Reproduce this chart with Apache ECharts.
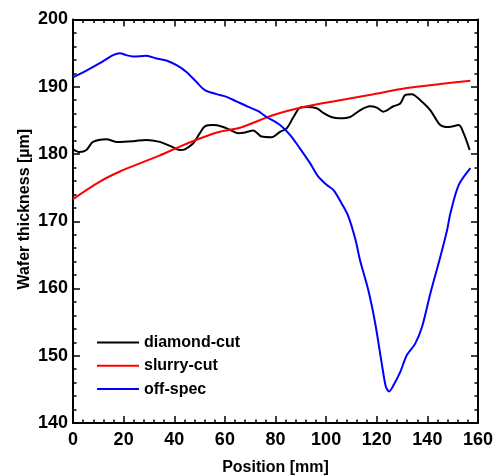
<!DOCTYPE html>
<html>
<head>
<meta charset="utf-8">
<script src="https://cdn.jsdelivr.net/npm/echarts@6/dist/echarts.min.js"></script>
<style>html,body{margin:0;padding:0;background:#fff}#c{width:497px;height:476px}</style>
</head>
<body>
<div id="c"></div>
<script>
var seriesNames = ['diamond-cut', 'slurry-cut', 'off-spec'];
var xTicks = [0, 20, 40, 60, 80, 100, 120, 140, 160];
var yTicks = [140, 150, 160, 170, 180, 190, 200];

var diamondX = [0, 2.6, 5.3, 7.9, 13.2, 17.2, 23.7, 29, 34.3, 38.3, 42.2, 44.2, 47.5, 50.1, 52.1, 55.4, 58.7, 62, 65.3, 68, 71.2, 74.5, 78.5, 81.8, 84.4, 87.1, 89.7, 92.4, 96.3, 98.9, 102, 105.5, 109.5, 113.4, 117.3, 120, 122.6, 126.6, 129.3, 131.3, 133.9, 137.2, 141.2, 145.1, 148.4, 152.4, 154.3, 156.7];
var diamondY = [180.7, 180.3, 180.6, 181.8, 182.2, 181.8, 181.9, 182.1, 181.8, 181.2, 180.6, 180.7, 181.6, 183.1, 184.1, 184.3, 184.1, 183.6, 183.1, 183.2, 183.5, 182.6, 182.5, 183.3, 183.8, 185.5, 186.9, 187.0, 186.8, 186.1, 185.5, 185.3, 185.5, 186.5, 187.1, 186.9, 186.3, 187.1, 187.5, 188.8, 188.9, 188.0, 186.5, 184.3, 184.0, 184.3, 183.1, 180.6];

var slurryX = [0, 10.6, 18.5, 26.4, 34.3, 42.2, 50.1, 58, 66, 79.2, 92.4, 105.5, 118.7, 131.9, 145.1, 157];
var slurryY = [173.3, 175.9, 177.4, 178.6, 179.8, 181.1, 182.3, 183.3, 183.9, 185.8, 187.1, 188.0, 188.9, 189.8, 190.4, 190.9];

var offX = [0, 5.3, 10.6, 13.2, 15.8, 18.5, 21, 23.7, 29, 33, 36.9, 40.9, 44.8, 48.8, 52.1, 56.7, 60.7, 64.7, 69.3, 73, 76.5, 81.8, 85.8, 89.7, 93.7, 97, 100.3, 103, 106.2, 108.8, 111.5, 113.4, 116.7, 119.4, 122, 123.6, 124.9, 126.6, 129.3, 131.9, 135.2, 137.9, 141.2, 145.1, 147.8, 149.1, 152.4, 157];
var offY = [191.4, 192.4, 193.5, 194.1, 194.7, 195.0, 194.7, 194.5, 194.6, 194.2, 193.9, 193.2, 192.2, 190.7, 189.5, 188.9, 188.5, 187.8, 187.0, 186.4, 185.5, 184.3, 182.8, 180.8, 178.6, 176.6, 175.4, 174.6, 172.6, 170.7, 167.4, 164.2, 159.7, 154.8, 148.8, 145.4, 144.7, 145.6, 147.6, 150.1, 151.8, 154.3, 159.3, 164.7, 168.7, 171.2, 175.4, 177.9];

function zip(xs, ys) { return xs.map(function (x, i) { return [x, ys[i]]; }); }

var font = 'Liberation Sans, Arial, sans-serif';
var axisLine = { show: true, onZero: false, lineStyle: { color: '#000', width: 2 } };
function xAx(pos, labels) {
  return {
    type: 'value', position: pos, min: xTicks[0], max: xTicks[xTicks.length - 1], interval: 20,
    axisLine: axisLine,
    axisTick: { show: true, inside: true, length: 7, lineStyle: { color: '#000', width: 1.5 } },
    minorTick: { show: true, splitNumber: 5, length: 3.5, lineStyle: { color: '#000', width: 1.5 } },
    splitLine: { show: false },
    axisLabel: { show: labels, color: '#000', fontSize: 18, fontWeight: 'bold', fontFamily: font, margin: 8 },
    name: labels ? 'Position [mm]' : '', nameLocation: 'middle', nameGap: 37, nameMoveOverlap: false,
    nameTextStyle: { color: '#000', fontSize: 16, fontWeight: 'bold', fontFamily: font }
  };
}
function yAx(pos, labels) {
  return {
    type: 'value', position: pos, min: yTicks[0], max: yTicks[yTicks.length - 1], interval: 10,
    axisLine: axisLine,
    axisTick: { show: true, inside: true, length: 7, lineStyle: { color: '#000', width: 1.5 } },
    minorTick: { show: true, splitNumber: 5, length: 3.5, lineStyle: { color: '#000', width: 1.5 } },
    splitLine: { show: false },
    axisLabel: { show: labels, color: '#000', fontSize: 18, fontWeight: 'bold', fontFamily: font, margin: 5 },
    name: labels ? 'Wafer thickness [µm]' : '', nameLocation: 'middle', nameGap: 40, nameMoveOverlap: false,
    nameTextStyle: { color: '#000', fontSize: 16, fontWeight: 'bold', fontFamily: font, padding: [0, 0, 0, 24] }
  };
}
var colors = ['#000000', '#ff0000', '#0000ff'];
var datas = [zip(diamondX, diamondY), zip(slurryX, slurryY), zip(offX, offY)];
var chart = echarts.init(document.getElementById('c'));
chart.setOption({
  animation: false,
  backgroundColor: '#fff',
  grid: { left: 73, right: 19, top: 19.5, bottom: 53, containLabel: false, outerBoundsMode: 'none' },
  xAxis: [xAx('bottom', true), xAx('top', false)],
  yAxis: [yAx('left', true), yAx('right', false)],
  legend: {
    orient: 'vertical', left: 92, top: 329.5, itemWidth: 42, itemHeight: 2, itemGap: 7.3,
    icon: 'rect',
    textStyle: { color: '#000', fontSize: 16, fontWeight: 'bold', fontFamily: font, lineHeight: 16 },
    data: seriesNames
  },
  series: seriesNames.map(function (n, i) {
    return {
      name: n, type: 'line', data: datas[i], smooth: 0.3, showSymbol: false, symbol: 'none',
      xAxisIndex: 0, yAxisIndex: 0,
      lineStyle: { color: colors[i], width: 2 }, itemStyle: { color: colors[i] }
    };
  })
});
</script>
</body>
</html>
